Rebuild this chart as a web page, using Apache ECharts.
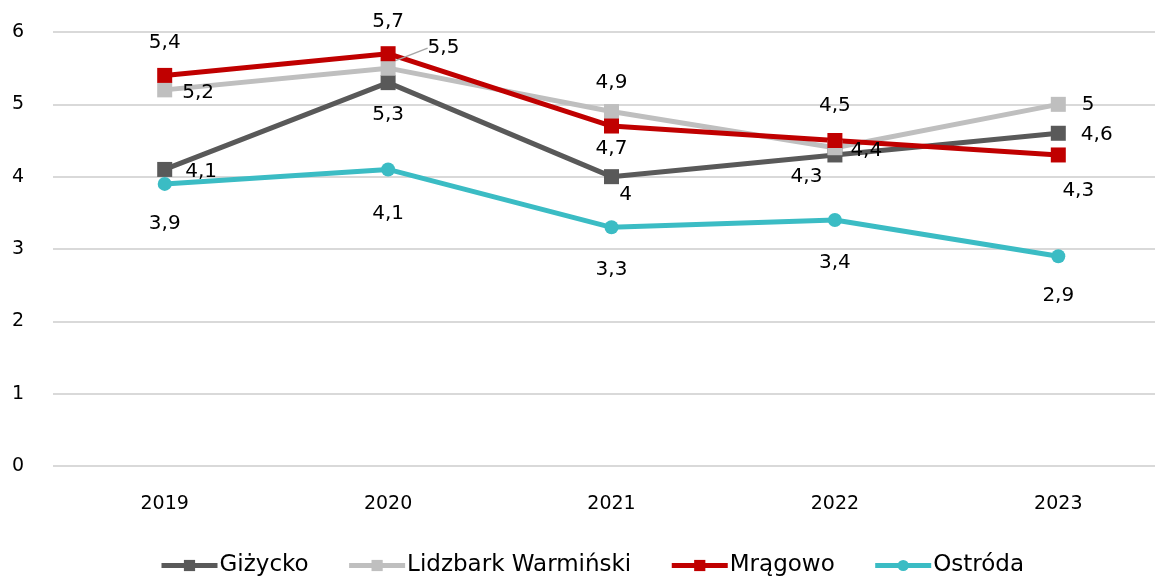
<!DOCTYPE html>
<html>
<head>
<meta charset="utf-8">
<script src="https://cdn.jsdelivr.net/npm/echarts@6/dist/echarts.min.js"></script>
<style>
html,body{margin:0;padding:0;background:#fff;}
#chart{width:1155px;height:576px;}
</style>
</head>
<body>
<div id="chart"></div>
<script>
// Years on the category axis
const years = ['2019', '2020', '2021', '2022', '2023'];

// Values per town
const gizycko = [4.1, 5.3, 4.0, 4.3, 4.6];
const lidzbark = [5.2, 5.5, 4.9, 4.4, 5.0];
const mragowo = [5.4, 5.7, 4.7, 4.5, 4.3];
const ostroda = [3.9, 4.1, 3.3, 3.4, 2.9];

// Series names
const names = ['Giżycko', 'Lidzbark Warmiński', 'Mrągowo', 'Ostróda'];

// Y axis ticks
const yTicks = [0, 1, 2, 3, 4, 5, 6];

const FONT = '"DejaVu Sans", "Noto Sans", sans-serif';
const fmt = v => String(v).replace('.', ',');

// Label placement per point (position, offset)
const placeG = [['right', [8, 2]], ['bottom', [0, 10]], ['bottom', [14, -4]], ['left', [0, 22]], ['right', [10, 2]]];
const placeL = [['right', [5, 3]], ['right', [27, -20]], ['top', [0, -6]], ['right', [3, 3]], ['right', [11, 0]]];
const placeM = [['top', [0, -10]], ['top', [0, -9]], ['bottom', [0, 0]], ['top', [0, -12]], ['bottom', [20, 13]]];
const placeO = [['bottom', [0, 18]], ['bottom', [0, 22]], ['bottom', [0, 20]], ['bottom', [0, 21]], ['bottom', [0, 18]]];

function buildData(vals, place) {
  return vals.map((v, i) => ({
    value: v,
    label: { position: place[i][0], offset: place[i][1] }
  }));
}

function series(name, vals, place, color, symbol, size) {
  return {
    name: name,
    type: 'line',
    data: buildData(vals, place),
    symbol: symbol,
    symbolSize: size,
    lineStyle: { width: 5, color: color },
    itemStyle: { color: color },
    label: {
      show: true,
      fontFamily: FONT,
      fontSize: 20,
      color: '#000',
      formatter: p => fmt(p.value)
    },
    emphasis: { disabled: true },
    animation: false
  };
}

const sG = series(names[0], gizycko, placeG, '#595959', 'rect', 15);
const sL = series(names[1], lidzbark, placeL, '#bfbfbf', 'rect', 15);
const sM = series(names[2], mragowo, placeM, '#c00000', 'rect', 15);
const sO = series(names[3], ostroda, placeO, '#3bbcc4', 'circle', 14);

// Lidzbark Warmiński labels are shifted through labelLayout, so the 2020 one can carry a guide line
sL.data.forEach((d, i) => { d.label = { position: placeL[i][0] }; });
sL.data[1].labelLine = { show: true, lineStyle: { color: '#a6a6a6', width: 1.5 } };
sL.labelLayout = function (p) {
  const off = placeL[p.dataIndex][1];
  return { dx: off[0], dy: off[1] };
};

const chart = echarts.init(document.getElementById('chart'), null, { renderer: 'canvas' });
chart.setOption({
  backgroundColor: '#fff',
  animation: false,
  grid: { left: 53, width: 1117, top: 32, bottom: 110, containLabel: false, outerBoundsMode: 'none' },
  xAxis: {
    type: 'category',
    data: years,
    boundaryGap: true,
    axisLine: { show: false },
    axisTick: { show: false },
    axisLabel: { color: '#000', fontFamily: FONT, fontSize: 19, margin: 29 }
  },
  yAxis: {
    type: 'value',
    min: yTicks[0],
    max: yTicks[yTicks.length - 1],
    interval: 1,
    axisLine: { show: false },
    axisTick: { show: false },
    splitLine: { lineStyle: { color: '#d9d9d9', width: 2 } },
    axisLabel: {
      color: '#000', fontFamily: FONT, fontSize: 19, margin: 29,
      formatter: v => yTicks.includes(v) ? String(v) : ''
    }
  },
  legend: {
    bottom: -6,
    left: 154,
    itemWidth: 56,
    itemHeight: 14,
    itemGap: 38,
    lineStyle: { width: 5 },
    textStyle: { color: '#000', fontFamily: FONT, fontSize: 23, padding: [0, 0, 0, -3] },
    data: names
  },
  series: [sG, sL, sM, sO]
});
</script>
</body>
</html>
